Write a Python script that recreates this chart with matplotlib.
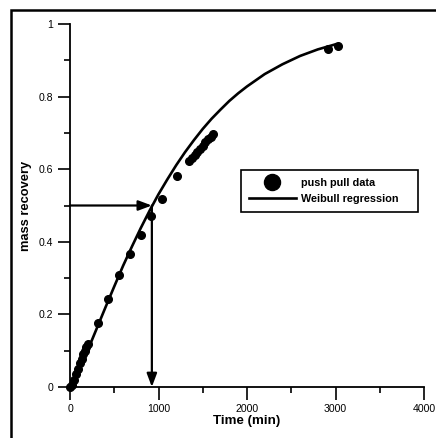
import matplotlib.pyplot as plt
from matplotlib.patches import Rectangle

plt.rcParams['font.family'] = ['Liberation Sans', 'DejaVu Sans']

# push pull data
data_t = [0, 25, 50, 70, 90, 110, 130, 150, 170, 185, 200,
          313, 426, 557, 678, 799, 911, 1036, 1209,
          1350, 1380, 1410, 1440, 1470, 1500, 1530, 1560, 1590, 1620,
          2911, 3024]
data_m = [0.0, 0.005, 0.02, 0.035, 0.05, 0.065, 0.078, 0.09, 0.10, 0.11, 0.118,
          0.175, 0.242, 0.309, 0.366, 0.42, 0.471, 0.517, 0.581,
          0.622, 0.63, 0.638, 0.647, 0.656, 0.665, 0.674, 0.682, 0.689, 0.696,
          0.931, 0.940]

# Weibull regression curve
fit_t = [0, 100, 200, 300, 400, 500, 600, 700, 800, 900, 1000, 1100, 1200,
         1300, 1400, 1500, 1600, 1700, 1800, 1900, 2000, 2200, 2400, 2600,
         2800, 3000]
fit_m = [0.0, 0.045, 0.101, 0.160, 0.219, 0.277, 0.334, 0.387, 0.438, 0.486,
         0.531, 0.572, 0.611, 0.647, 0.680, 0.711, 0.739, 0.764, 0.788, 0.809,
         0.828, 0.862, 0.889, 0.912, 0.930, 0.944]

t_half = 925
m_half = 0.5

fig = plt.figure(figsize=(4.36, 4.38), dpi=100)
ax = fig.add_axes([70/436, 51/438, 354/436, 363/438])

# outer frame of the scanned figure
fig.patches.append(Rectangle((11/436, -0.05), 1.1, 1 - 10/438 + 0.05,
                             transform=fig.transFigure, fill=False,
                             edgecolor='black', linewidth=1.8))

ax.plot(data_t, data_m, 'o', color='black', markersize=5.5, clip_on=False,
        label='push pull data')
ax.plot(fit_t, fit_m, '-', color='black', linewidth=1.9,
        label='Weibull regression')

arrow = dict(arrowstyle='-|>,head_length=0.8,head_width=0.3', color='black',
             lw=1.6, shrinkA=0, shrinkB=0)
ax.annotate('', xy=(t_half, m_half), xytext=(0, m_half), arrowprops=arrow)
ax.annotate('', xy=(t_half, 0), xytext=(t_half, m_half), arrowprops=arrow)

ax.set_xlim(0, 4000)
ax.set_ylim(0, 1)
ax.set_xticks([0, 1000, 2000, 3000, 4000])
ax.set_xticks([500, 1500, 2500, 3500], minor=True)
ax.set_yticks([0, 0.2, 0.4, 0.6, 0.8, 1])
ax.set_yticklabels(['0', '0.2', '0.4', '0.6', '0.8', '1'])
ax.set_yticks([0.1, 0.3, 0.5, 0.7, 0.9], minor=True)
ax.tick_params(which='major', direction='out', length=9, width=1.2,
               labelsize=7.6, pad=3)
ax.tick_params(which='minor', direction='out', length=4, width=1.2)

for s in ['top', 'right']:
    ax.spines[s].set_visible(False)
for s in ['left', 'bottom']:
    ax.spines[s].set_linewidth(1.3)

ax.set_xlabel('Time (min)', fontsize=9.6, fontweight='bold', labelpad=1)
ax.set_ylabel('mass recovery', fontsize=9.3, fontweight='bold', labelpad=5)

leg = ax.legend(loc='center', bbox_to_anchor=(0.483, 0.482, 0.5, 0.116),
                mode='expand', fancybox=False, edgecolor='black',
                framealpha=1, markerscale=2.1, handlelength=4.4,
                handletextpad=0.4, borderaxespad=0,
                prop={'weight': 'bold', 'size': 7.8}, borderpad=0.7,
                labelspacing=0.6)
leg.get_frame().set_linewidth(1.2)
leg._legend_box.align = 'left'

fig.savefig('out.png', dpi=100)
